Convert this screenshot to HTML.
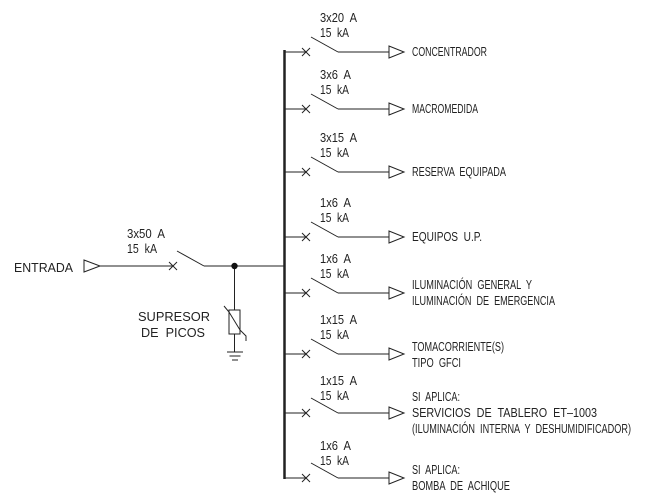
<!DOCTYPE html>
<html><head><meta charset="utf-8"><style>body{margin:0;background:#fff}svg{display:block}text{font-family:"Liberation Sans",sans-serif;font-size:12.5px;fill:#222;white-space:pre}</style></head><body>
<svg width="646" height="502" viewBox="0 0 646 502" xmlns="http://www.w3.org/2000/svg" xml:space="preserve">
<g stroke="#222" stroke-width="1" fill="none">
<line x1="284.5" y1="50" x2="284.5" y2="479" stroke-width="2.5"/>
<polygon points="84,260 84,272 100,266"/>
<line x1="100" y1="266" x2="172" y2="266"/>
<line x1="169" y1="262" x2="177" y2="270"/><line x1="169" y1="270" x2="177" y2="262"/>
<line x1="177" y1="251" x2="204" y2="266"/>
<line x1="204" y1="266" x2="284" y2="266"/>
<line x1="234.5" y1="266" x2="234.5" y2="352"/>
<rect x="229" y="310" width="11" height="24" fill="#fff"/>
<polyline points="224,306 229,312 240,330 246,336 246,341"/>
<line x1="227" y1="352" x2="243" y2="352"/><line x1="229.5" y1="356" x2="240.5" y2="356"/><line x1="232" y1="360" x2="238" y2="360"/>
</g>
<circle cx="234.5" cy="266" r="3.2" fill="#111"/>
<text x="14" y="272" textLength="59" lengthAdjust="spacingAndGlyphs">ENTRADA</text>
<text x="127" y="238" textLength="38" lengthAdjust="spacingAndGlyphs">3x50  A</text>
<text x="127" y="253" textLength="30" lengthAdjust="spacingAndGlyphs">15  kA</text>
<text x="138" y="321" textLength="72" lengthAdjust="spacingAndGlyphs">SUPRESOR</text>
<text x="141" y="337" textLength="64" lengthAdjust="spacingAndGlyphs">DE  PICOS</text>
<defs><g id="br" stroke="#222" stroke-width="1" fill="none">
<line x1="284" y1="0" x2="306" y2="0"/>
<line x1="302" y1="-4" x2="310" y2="4"/><line x1="302" y1="4" x2="310" y2="-4"/>
<line x1="311" y1="-15" x2="338" y2="0"/>
<line x1="338" y1="0" x2="389" y2="0"/>
<polygon points="389,-6 389,6 404,0"/>
</g></defs>
<use href="#br" y="52"/><use href="#br" y="109"/><use href="#br" y="172"/><use href="#br" y="237"/>
<use href="#br" y="293"/><use href="#br" y="354"/><use href="#br" y="413"/><use href="#br" y="478"/>
<text x="320" y="22" textLength="37" lengthAdjust="spacingAndGlyphs">3x20  A</text><text x="320" y="37" textLength="29" lengthAdjust="spacingAndGlyphs">15  kA</text><text x="412" y="56" textLength="75" lengthAdjust="spacingAndGlyphs">CONCENTRADOR</text>
<text x="320" y="79" textLength="31" lengthAdjust="spacingAndGlyphs">3x6  A</text><text x="320" y="94" textLength="29" lengthAdjust="spacingAndGlyphs">15  kA</text><text x="412" y="113" textLength="66" lengthAdjust="spacingAndGlyphs">MACROMEDIDA</text>
<text x="320" y="142" textLength="37" lengthAdjust="spacingAndGlyphs">3x15  A</text><text x="320" y="157" textLength="29" lengthAdjust="spacingAndGlyphs">15  kA</text><text x="412" y="176" textLength="94" lengthAdjust="spacingAndGlyphs">RESERVA  EQUIPADA</text>
<text x="320" y="207" textLength="31" lengthAdjust="spacingAndGlyphs">1x6  A</text><text x="320" y="222" textLength="29" lengthAdjust="spacingAndGlyphs">15  kA</text><text x="412" y="241" textLength="70" lengthAdjust="spacingAndGlyphs">EQUIPOS  U.P.</text>
<text x="320" y="263" textLength="31" lengthAdjust="spacingAndGlyphs">1x6  A</text><text x="320" y="278" textLength="29" lengthAdjust="spacingAndGlyphs">15  kA</text><text x="412" y="289" textLength="120" lengthAdjust="spacingAndGlyphs">ILUMINACIÓN  GENERAL  Y</text><text x="412" y="305" textLength="143" lengthAdjust="spacingAndGlyphs">ILUMINACIÓN  DE  EMERGENCIA</text>
<text x="320" y="324" textLength="37" lengthAdjust="spacingAndGlyphs">1x15  A</text><text x="320" y="339" textLength="29" lengthAdjust="spacingAndGlyphs">15  kA</text><text x="412" y="351" textLength="92" lengthAdjust="spacingAndGlyphs">TOMACORRIENTE(S)</text><text x="412" y="367" textLength="49" lengthAdjust="spacingAndGlyphs">TIPO  GFCI</text>
<text x="320" y="385" textLength="37" lengthAdjust="spacingAndGlyphs">1x15  A</text><text x="320" y="400" textLength="29" lengthAdjust="spacingAndGlyphs">15  kA</text><text x="412" y="401" textLength="48" lengthAdjust="spacingAndGlyphs">SI  APLICA:</text><text x="412" y="417" textLength="185" lengthAdjust="spacingAndGlyphs">SERVICIOS  DE  TABLERO  ET–1003</text><text x="412" y="433" textLength="219" lengthAdjust="spacingAndGlyphs">(ILUMINACIÓN  INTERNA  Y  DESHUMIDIFICADOR)</text>
<text x="320" y="450" textLength="31" lengthAdjust="spacingAndGlyphs">1x6  A</text><text x="320" y="465" textLength="29" lengthAdjust="spacingAndGlyphs">15  kA</text><text x="412" y="474" textLength="48" lengthAdjust="spacingAndGlyphs">SI  APLICA:</text><text x="412" y="490" textLength="98" lengthAdjust="spacingAndGlyphs">BOMBA  DE  ACHIQUE</text>
</svg>
</body></html>
